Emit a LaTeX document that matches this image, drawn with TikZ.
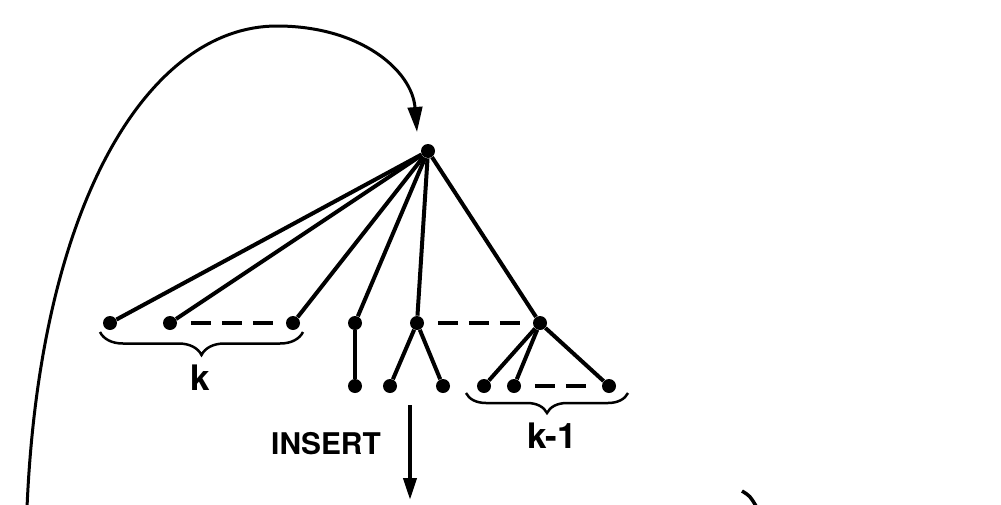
\documentclass[tikz,border=0pt]{standalone}
\usepackage{fontspec}
\setmainfont{TeX Gyre Heros}
\usetikzlibrary{arrows.meta, positioning, decorations.pathreplacing}
\tikzset{
    % Tree vertices
    vertex/.style={circle, fill=black, inner sep=0pt, minimum size=0.28cm},
    % Edges
    edge/.style={line width=0.08cm},
    gapline/.style={line width=0.07cm, dash pattern=on 0.4cm off 0.22cm,
        shorten <=0.27cm, shorten >=0.25cm},
    % Arrows
    looparrow/.style={-{Triangle[length=5mm, width=2.9mm]}, line width=0.06cm},
    downarrow/.style={-{Triangle[length=4.4mm, width=2.6mm]}, line width=0.08cm},
    % Braces
    countbrace/.style={decorate, decoration={brace, mirror, amplitude=#1}, line width=0.05cm},
    % Labels
    countlabel/.style={font=\fontsize{20}{24}\selectfont\bfseries},
    oplabel/.style={font=\fontsize{17}{20}\selectfont\bfseries},
}
\begin{document}
\begin{tikzpicture}[x=0.02cm, y=-0.02cm]
\useasboundingbox (0,0) rectangle (1001,504);

% Root and children
\node (root) [vertex] at (428,151) {};
\node (l1) [vertex] at (110,323) {};
\node (l2) [vertex] at (170,323) {};
\node (l3) [vertex] at (293,323) {};
\node (m1) [vertex] at (355,323) {};
\node (m2) [vertex] at (417,323) {};
\node (m3) [vertex] at (540,323) {};

% Grandchildren
\node (m1a) [vertex] at (355,386) {};
\node (m2a) [vertex] at (390,386) {};
\node (m2b) [vertex] at (443,386) {};
\node (r1) [vertex] at (484,386) {};
\node (r2) [vertex] at (514,386) {};
\node (r3) [vertex] at (609,386) {};

% Edges
\foreach \c in {l1,l2,l3,m1,m2,m3}
    \draw[edge] (root) -- (\c);
\draw[edge] (m1) -- (m1a);
\foreach \c in {m2a,m2b}
    \draw[edge] (m2) -- (\c);
\foreach \c in {r1,r2,r3}
    \draw[edge] (m3) -- (\c);

% Omitted vertices
\draw[gapline] (l2) -- (l3);
\draw[gapline] (m2) -- (m3);
\draw[gapline] (r2) -- (r3);

% Braces with counts
\draw[countbrace=0.46cm] (100,332) -- (303,332);
\node (klabel) [countlabel] at (200,378) {k};
\draw[countbrace=0.4cm] (466,393) -- (628,393);
\node (kminus) [countlabel] at (552,436) {k-1};

% Insert step
\node (insert) [oplabel] at (326,444) {INSERT};
\coordinate (insertfrom) at (410,405);
\coordinate (insertto) at (410,500);
\draw[downarrow] (insertfrom) -- (insertto);

% Loop back to the root
\coordinate (loopstart) at (27,508);
\coordinate (looptop) at (277,26);
\coordinate (looptip) at (417,132);
\draw[looparrow] (loopstart) .. controls (40,200) and (150,26) .. (looptop)
    .. controls (360,26) and (412,70) .. (looptip);

% Cut-off stroke at the bottom
\draw[line width=0.07cm] (742,491) .. controls (750,496) .. (756,506);

\end{tikzpicture}
\end{document}
